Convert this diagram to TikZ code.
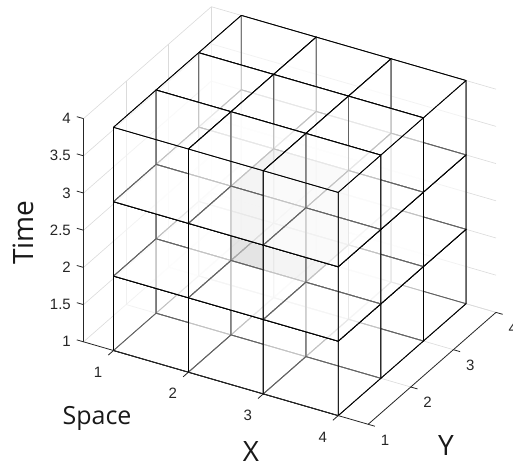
\documentclass[tikz,border=0pt]{standalone}
\usepackage{fontspec}
\setmainfont{Liberation Sans}
\newfontfamily\labfont{Open Sans}
\begin{document}
\begin{tikzpicture}[x=1pt,y=1pt,
  cubeface/.style={draw=black,line width=0.8pt,line join=round,fill=white,fill opacity=0.38},
  hotface/.style={draw=black,line width=0.8pt,line join=round,fill=black!55,fill opacity=0.28},
  gridline/.style={draw=black!14,line width=0.6pt},
  axisline/.style={draw=black!85,line width=0.8pt},
  ticklab/.style={font=\fontsize{15}{17}\selectfont,text=black!85,inner sep=0pt},
  biglab/.style={font=\labfont\fontsize{28}{30}\selectfont,text=black!90,inner sep=0pt}]
\useasboundingbox (0,0) rectangle (513,-463);
\fill[white] (0,0) rectangle (513,-463);
\begin{scope}[shift={(-4pt,-440.5pt)},x={(74.9pt,-21.7pt)},y={(42.6pt,37.3pt)},z={(0pt,74.4pt)}]
  % axes grid on the back planes
  \foreach \zz in {1,1.5,...,4}{
    \draw[gridline] (0.6,1,\zz) -- (0.6,4,\zz) -- (4.4,4,\zz);
  }
  \foreach \yy in {2,3,4}{
    \draw[gridline] (0.6,\yy,1) -- (0.6,\yy,4);
    \draw[gridline] (0.6,\yy,1) -- (4.4,\yy,1);
  }
  \foreach \xx in {1,2,3,4}{
    \draw[gridline] (\xx,4,1) -- (\xx,4,4);
    \draw[gridline] (\xx,1,1) -- (\xx,4,1);
  }
  % 3x3x3 cubes, back to front
  \foreach \i [evaluate=\i as \ii using int(\i+1)] in {1,2,3}{
   \foreach \j [evaluate=\j as \jj using int(\j+1)] in {3,2,1}{
    \foreach \k [evaluate=\k as \kk using int(\k+1)] in {1,2,3}{
      \tikzset{curface/.style={cubeface}}
      \ifnum\i=2 \ifnum\j=2 \ifnum\k=2 \tikzset{curface/.style={hotface}}\fi\fi\fi
      \path[curface] (\i,\j,\k) -- (\i,\jj,\k) -- (\i,\jj,\kk) -- (\i,\j,\kk) -- cycle;
      \path[curface] (\i,\jj,\k) -- (\ii,\jj,\k) -- (\ii,\jj,\kk) -- (\i,\jj,\kk) -- cycle;
      \path[curface] (\i,\j,\k) -- (\ii,\j,\k) -- (\ii,\jj,\k) -- (\i,\jj,\k) -- cycle;
      \path[curface] (\ii,\j,\k) -- (\ii,\jj,\k) -- (\ii,\jj,\kk) -- (\ii,\j,\kk) -- cycle;
      \path[curface] (\i,\j,\k) -- (\ii,\j,\k) -- (\ii,\j,\kk) -- (\i,\j,\kk) -- cycle;
      \path[curface] (\i,\j,\kk) -- (\ii,\j,\kk) -- (\ii,\jj,\kk) -- (\i,\jj,\kk) -- cycle;
    }}}
  % axis lines and ticks
  \draw[axisline] (0.6,1,4) -- (0.6,1,1) -- (4.4,1,1) -- (4.4,4,1);
  \foreach \zz in {1,1.5,...,4}{ \draw[axisline] (0.6,1,\zz) -- (0.51,1,\zz); }
  \foreach \xx in {1,2,3,4}{ \draw[axisline] (\xx,1,1) -- (\xx,0.876,1); }
  \foreach \yy in {1,2,3,4}{ \draw[axisline] (4.4,\yy,1) -- (4.49,\yy,1); }
\end{scope}
% tick labels
\foreach \v [count=\n] in {1,1.5,2,2.5,3,3.5,4}{
  \node[ticklab,anchor=east] (zt\n) at (71,{-341.8+(\v-1)*74.4}) {\v};
}
\foreach \n in {1,2,3,4}{
  \node[ticklab] (xt\n) at ({98+(\n-1)*74.9},{-372-(\n-1)*21.7}) {\n};
  \node[ticklab] (yt\n) at ({385+(\n-1)*42.6},{-440+(\n-1)*37.3}) {\n};
}
% axis labels
\node[biglab,rotate=90,anchor=base] (time) at (33,-232.5) {Time};
\node[biglab,font=\labfont\fontsize{25}{27}\selectfont,anchor=base] (space) at (97,-424.5) {Space};
\node[biglab,anchor=base] (xlab) at (251,-461.5) {X};
\node[biglab,anchor=base] (ylab) at (446,-455) {Y};
\end{tikzpicture}
\end{document}
